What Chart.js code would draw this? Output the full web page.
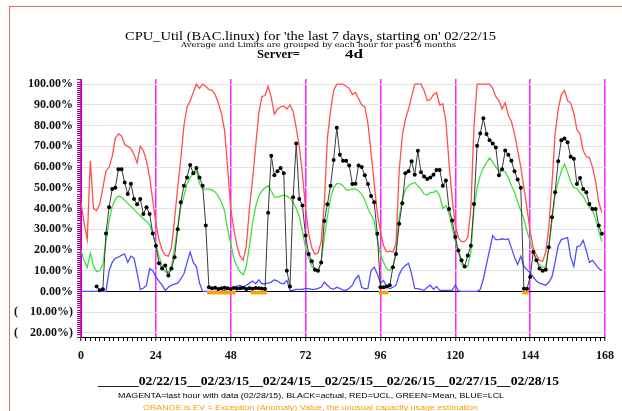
<!DOCTYPE html>
<html>
<head>
<meta charset="utf-8">
<script src="https://cdn.jsdelivr.net/npm/chart.js@4"></script>
<style>
html,body{margin:0;padding:0;background:#fff;}
#wrap{position:relative;width:622px;height:411px;overflow:hidden;background:#fff;}
#frame{position:absolute;left:9px;top:6px;width:660px;height:460px;border-top:1px solid #ef6b6b;border-left:1px solid #ef6b6b;}
#c{position:absolute;left:0;top:0;}
.t{position:absolute;white-space:pre;line-height:1;transform-origin:0 50%;color:#000;}
</style>
</head>
<body>
<div id="wrap">
<canvas id="c" width="622" height="411"></canvas>
<div id="frame"></div>
<div class="t" id="title" data-w="371" style="left:125px;top:28.5px;font:12px 'Liberation Serif',serif;"></div>
<div class="t" id="sub" data-w="275" style="left:181px;top:41px;font:7px 'DejaVu Serif',serif;"></div>
<div class="t" id="srv" data-w="43" style="left:257px;top:47px;font:bold 12.5px 'Liberation Serif',serif;"></div>
<div class="t" id="srv2" data-w="18" style="left:345px;top:47px;font:bold 12.5px 'Liberation Serif',serif;"></div>
<div class="t" id="dates" data-w="461" style="left:98px;top:374.4px;font:bold 12.5px 'Liberation Serif',serif;"></div>
<div class="t" id="leg1" data-w="386" style="left:118px;top:390.8px;font:8px 'Liberation Sans',sans-serif;"></div>
<div class="t" id="leg2" data-w="335" style="left:143px;top:403.4px;font:7.5px 'Liberation Sans',sans-serif;color:#ff9a00;"></div>
</div>
<script>
// ---- data (hourly, hour 0..167) ----
const ucl = [43,33,25,63,40,39,42,50,58,60,
 65,74,76,75,71,70,69,66,62,70,
 68,63,55,44,33,25,20,17.5,17,21,
 35,50,64,80,89,92,96,100,98,100,
 99,97.5,97,95,91,86,78,60,40,30,
 22,17,15,22,40,54,70,86,94,94.5,
 99,93.5,85.5,88,89,89.5,88,90,87,79,
 69.5,56.7,40,28,21,18,18.5,24,42,74,
 87,97,100,100,100,99,98,95,96,93,
 90,89,81,67,52,38,29,22,19,19.5,
 19,23,58,75,83,88,94,100,100,100,
 97,92,92.5,95,96,90,90.5,82,62,45,
 32,26,24,24,26,40,80,100,100,100,
 100,100,98,94,92,88,91,85,82,76,
 68,60,50,40,29,21,17.5,15,14.5,19,
 31,52,76,88,95,97,92,91,86,78,
 76,68,65,64.5,60,53,43,38];
const mean = [19.8,15,11.5,18.5,12.5,9.5,10,13,24,34,
 41,44.5,46,45.5,44,42.5,41,39.5,38,36.5,
 35,34,32,28,23,17,12.5,9.5,9,12,
 21,31,41,46,52,55,57,58,52,49.5,
 49.4,49.4,49,48,46,43,39,30,23,16,
 12,9.5,8,12,22,33,41,46,48.5,50,
 51,48.6,45.5,45.5,46,46.5,46,45,43,40,
 36,29,21,16,12,10.5,10,14,26,36,
 45,50,52,52,51,49,49,49.4,49.4,48.5,
 47,44,40,37,34,25,18,14,11,10,
 12,19.7,36,44,49,51,52,52.6,51,49.4,
 47,46.5,47.8,47.8,48.6,46,40,41.4,37.5,31,
 24,19,13,12,12,19,40,50,56,59.5,
 62,64.4,62.5,60,58,58.5,57.5,55,51,48,
 43,39,35,29,24,19,15.5,13,11.7,11.7,
 22,34,47,53,58,61.5,57.5,53,50,49.7,
 47.5,46,43,40.6,39,35,29,24];
const lcl = [0,0,0,0,0,0,0,0,0,10,
 14,16,16.5,17.5,18,14,17,16,9,1,
 1.5,3,11,10,7,5,3,0.5,2,3,
 3.5,4,6,8.5,14,19,14,12,4,0,
 0,0,0,0,0,0,0.5,1,1,2,
 2.5,3,2,3,4,5,3.7,5.6,3.7,3.7,
 4,4.5,5.6,5,4,3.7,5.3,0.5,0.5,1,
 1,1,1.5,1.3,1,1,1.5,2,4.5,3,
 1.5,1,2,1.5,0.5,0.5,1.5,3,6,7.7,
 2,1.3,1.5,10,11.7,8.5,4,5.3,2.4,1.3,
 2,3,8,11,12.5,13.6,8.5,1.3,1.3,1,
 0.5,2,3,1,2.4,0.5,0.5,0.5,0.5,0.5,
 3.2,0.3,0,0,0,0,0,0,1,6,
 13,20,27,25,25,25.4,25,25.4,21,16.5,
 13,17,12,10.5,9,7,5,4,3.5,3,
 4.5,7,14,22,25,25.5,26,16.5,12,21.5,
 22,24.6,19.7,14,15,13,11,10];
const actual = [null,null,null,null,null,2.4,0.5,1,28,40.6,
 49.4,50,59,59,52.6,47,52,44.6,42,44.6,
 37.4,40.6,37.4,28,22,13.6,11,12.5,7.7,11,
 16.5,30,43,51,55,61,57,59.5,55,51,
 31.8,2,1.5,1.8,1.2,1.5,1.8,1.5,1.2,1.6,
 1.4,1.5,1.8,1.2,1.5,1.3,1.6,1.5,1.4,1.2,
 38,65.5,56,58,59.5,57,10,2.4,45.4,71.4,
 44.6,41.4,27,18,14.6,10.4,10,14,34,42,
 51,63.4,79,66,63,63,60.7,51.8,52,60.7,
 60,56,51.8,46,43,27.8,2,2,2.4,3,
 11.7,18,32.6,42.5,57,58,62.8,56.3,67.9,57.5,
 55.4,54.3,55,56.3,58.6,58.6,51,53.5,39.8,34.2,
 26.2,19.7,15,12,17.3,22,42.2,70.3,76.2,83.5,
 76,73,71.4,69.5,56,59,68,66,63,58,
 54,50,1.3,1.3,7,19,15,11,10,10.4,
 21.3,35.8,47.8,62.8,73,73.8,72,65,64,51.8,
 54.7,49.4,47.8,42.2,39.8,39.8,31.8,27.8];
const exceptionHours = [41,42,43,44,45,46,47,48,49,55,56,57,58,59,96,97,98,142,143];
const dayTicks = [0,24,48,72,96,120,144,168];
const dates = ['02/22/15','02/23/15','02/24/15','02/25/15','02/26/15','02/27/15','02/28/15'];
const yLabelValues = [100,90,80,70,60,50,40,30,20,10,0,-10,-20];

// ---- texts ----
document.getElementById('title').textContent = "CPU_Util (BAC.linux) for 'the last 7 days, starting on' 02/22/15";
document.getElementById('sub').textContent = "Average and Limits are grouped by each hour for past 6 months";
document.getElementById('srv').textContent = "Server=";
document.getElementById('srv2').textContent = "4d";
document.getElementById('dates').textContent = "____" + dates.map(d => "__" + d).join("");
document.getElementById('leg1').textContent = "MAGENTA=last hour with data (02/28/15), BLACK=actual, RED=UCL, GREEN=Mean, BLUE=LCL";
document.getElementById('leg2').textContent = "ORANGE is EV = Exception (Anomaly) Value, the unusual capacity usage estimation";

function fit(){
  document.querySelectorAll('.t[data-w]').forEach(el => {
    el.style.transform = 'none';
    const w = el.getBoundingClientRect().width;
    if (w > 0) el.style.transform = 'scaleX(' + (parseFloat(el.dataset.w) / w) + ')';
  });
}
fit();
if (document.fonts && document.fonts.ready) document.fonts.ready.then(fit);

// ---- chart ----
const toXY = arr => arr.map((v, i) => ({x: i, y: v}));
const fmtY = v => v >= 0 ? v.toFixed(2) + '%' : '(    ' + (-v).toFixed(2) + '%)';
const tickFont = {family: 'Liberation Serif', weight: 'bold', size: 12};

new Chart(document.getElementById('c'), {
  type: 'line',
  data: {
    datasets: [
      {label: 'actual', data: toXY(actual), borderColor: '#3a3a3a', borderWidth: 1,
       pointRadius: 2, pointBackgroundColor: '#000', pointBorderWidth: 0, pointHoverRadius: 0, spanGaps: false},
      {label: 'EV', data: exceptionHours.map(h => ({x: h, y: -0.6})), showLine: false,
       pointStyle: 'rect', pointRadius: 2.4, pointBackgroundColor: '#ff9a00', pointBorderWidth: 0},
      {label: 'UCL', data: toXY(ucl), borderColor: '#ff4f4f', borderWidth: 1.3, pointRadius: 0},
      {label: 'Mean', data: toXY(mean), borderColor: '#3fe03f', borderWidth: 1.3, pointRadius: 0},
      {label: 'LCL', data: toXY(lcl), borderColor: '#4f4fff', borderWidth: 1.3, pointRadius: 0}
    ]
  },
  options: {
    responsive: false, animation: false, events: [],
    layout: {padding: {left: 0, right: 17, top: 79, bottom: 0}},
    plugins: {legend: {display: false}, title: {display: false}, tooltip: {enabled: false}},
    scales: {
      x: {
        type: 'linear', min: 0, max: 168,
        afterFit(s) { s.height = 74; },
        ticks: {stepSize: 1.5, autoSkip: false, maxRotation: 0, padding: 8, color: '#111', font: tickFont,
          callback: v => dayTicks.includes(v) ? String(v) : ''},
        grid: {color: c => (c.tick && dayTicks.includes(c.tick.value)) ? '#ff22ff' : 'rgba(0,0,0,0)',
          lineWidth: c => (c.tick && dayTicks.includes(c.tick.value)) ? 1.5 : 1,
          tickLength: 4, tickColor: '#000', tickWidth: 1, drawOnChartArea: true},
        border: {color: '#000', width: 1}
      },
      y: {
        min: -22, max: 102.5,
        afterFit(s) { s.width = 81; },
        ticks: {stepSize: 1, autoSkip: false, padding: 4, color: '#111', font: tickFont,
          callback: v => yLabelValues.includes(v) ? fmtY(v) : ''},
        grid: {color: c => { const v = c.tick ? c.tick.value : null; if (v === 0) return '#000'; return yLabelValues.includes(v) ? '#e3e3e3' : 'rgba(0,0,0,0)'; },
          tickColor: '#a000a0', tickLength: 4, lineWidth: 1},
        border: {color: '#b000b0', width: 1}
      }
    }
  }
});
</script>
</body>
</html>
